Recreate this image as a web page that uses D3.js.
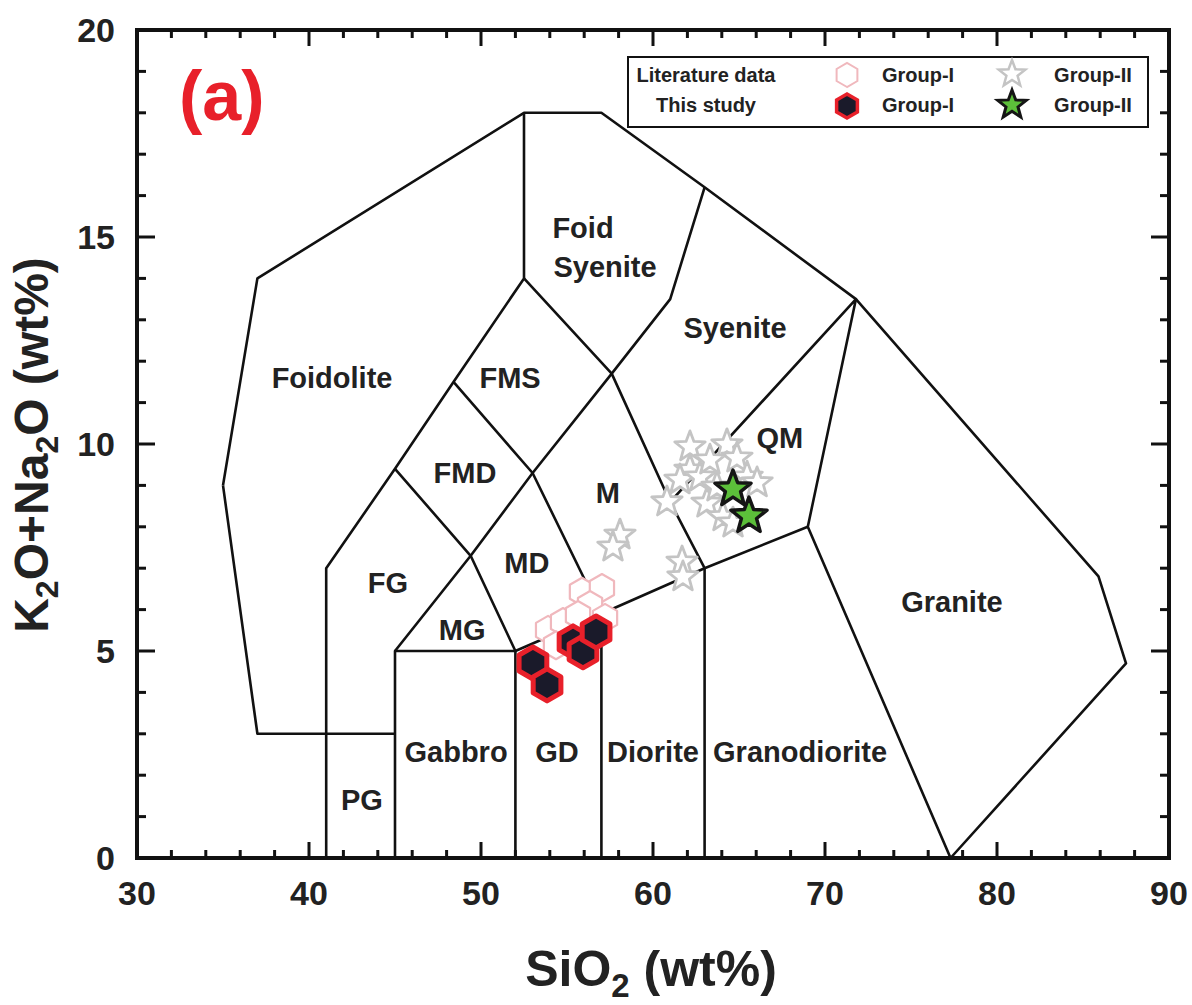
<!DOCTYPE html>
<html>
<head>
<meta charset="utf-8">
<script src="https://cdn.jsdelivr.net/npm/d3@7"></script>
<style>
  body { margin: 0; background: #fff; }
  text { font-family: "Liberation Sans", Arial, sans-serif; font-weight: bold; }
</style>
</head>
<body>
<svg id="chart" width="1192" height="1005"></svg>
<script>
// field boundaries (Middlemost 1994), each one a polyline of [SiO2, K2O+Na2O]
var boundaries = [
  [[35,9],[37,14],[52.5,18],[57,18],[63,16.2],[71.8,13.5],[85.9,6.8],[87.5,4.7],[77.3,0]],
  [[35,9],[37,3],[45,3]],
  [[41,0],[41,7],[45,9.4],[48.4,11.5],[52.5,14],[52.5,18]],
  [[45,0],[45,5],[52,5]],
  [[45,5],[49.4,7.3],[53,9.3],[57.6,11.7],[61,13.5],[63,16.2]],
  [[45,9.4],[49.4,7.3],[52,5],[52,0]],
  [[48.4,11.5],[53,9.3],[57,5.9],[57,0]],
  [[52,5],[57,5.9],[63,7],[69,8]],
  [[63,0],[63,7]],
  [[52.5,14],[57.6,11.7],[61,8.6],[63,7]],
  [[61,8.6],[71.8,13.5],[69,8],[77.3,0]]
];

var fieldNames = ["Foidolite","Foid","Syenite","FMS","Syenite","FMD","M","QM","MD","FG","MG","Granite","Gabbro","GD","Diorite","Granodiorite","PG"];
var fieldX = [41.34,55.93,57.21,51.69,64.77,49.07,57.38,67.38,52.67,44.59,48.90,77.38,48.55,54.42,60.0,68.55,43.08];
var fieldY = [11.59,15.22,14.28,11.59,12.80,9.30,8.82,10.14,7.13,6.64,5.51,6.18,2.56,2.56,2.56,2.56,1.40];

// literature data
var litG1_si = [55.87,57.03,56.34,53.90,54.77,55.64,57.21,54.36];
var litG1_alk = [6.43,6.52,6.11,5.51,5.70,5.87,5.80,5.14];
var litG2_si = [62.15,64.30,64.88,62.15,61.57,62.73,65.47,66.05,60.81,63.14,64.07,64.65,63.72,63.31,58.08,57.67,61.69,61.74];
var litG2_alk = [9.93,9.98,9.66,9.37,9.13,9.20,9.20,9.06,8.60,8.57,8.24,8.09,8.96,9.61,7.80,7.51,7.15,6.79];

// this study
var thisG1_si = [53.02,53.84,55.35,55.93,56.69];
var thisG1_alk = [4.71,4.18,5.22,4.98,5.46];
var thisG2_si = [64.65,65.58];
var thisG2_alk = [8.91,8.26];

var xTicks = [30,40,50,60,70,80,90];
var yTicks = [0,5,10,15,20];

var svg = d3.select("#chart");
var pLeft = 137, pTop = 30, pRight = 1169, pBottom = 858;

var x = d3.scaleLinear().domain([30,90]).range([pLeft,pRight]);
var y = d3.scaleLinear().domain([0,20]).range([pBottom,pTop]);

// hexagon / star paths around the origin
function hexPath(r){
  var pts = d3.range(6).map(function(i){
    var a = Math.PI/2 + i*Math.PI/3;
    return [r*Math.cos(a), r*Math.sin(a)];
  });
  return d3.line()(pts) + "Z";
}
function starPath(r){
  var pts = d3.range(10).map(function(i){
    var rr = i%2==0 ? r : r*0.42;
    var a = -Math.PI/2 + i*Math.PI/5;
    return [rr*Math.cos(a), rr*Math.sin(a)];
  });
  return d3.line()(pts) + "Z";
}

// boundary lines
var line = d3.line().x(function(d){return x(d[0]);}).y(function(d){return y(d[1]);});
svg.append("g").selectAll("path")
  .data(boundaries).enter().append("path")
  .attr("d", line)
  .attr("fill","none").attr("stroke","#111").attr("stroke-width",2.6)
  .attr("stroke-linejoin","round");

// field names
svg.append("g").selectAll("text")
  .data(fieldNames).enter().append("text")
  .attr("x", function(d,i){return x(fieldX[i]);})
  .attr("y", function(d,i){return y(fieldY[i]);})
  .attr("text-anchor","middle").attr("dominant-baseline","central")
  .attr("font-size",29).attr("fill","#222")
  .text(function(d){return d;});

// markers
function markers(si, alk, path, fill, stroke, sw){
  svg.append("g").selectAll("path")
    .data(si).enter().append("path")
    .attr("d", path)
    .attr("transform", function(d,i){return "translate("+x(d)+","+y(alk[i])+")";})
    .attr("fill", fill).attr("stroke", stroke).attr("stroke-width", sw)
    .attr("stroke-linejoin","round");
}
markers(litG1_si, litG1_alk, hexPath(14), "#fff", "#f0b8bd", 2.2);
markers(litG2_si, litG2_alk, starPath(16), "#fff", "#c4c4c4", 2.8);
markers(thisG1_si, thisG1_alk, hexPath(16), "#1a1a2a", "#e8202a", 5);
markers(thisG2_si, thisG2_alk, starPath(19), "#5cbf3a", "#151515", 3.5);

// frame
svg.append("rect")
  .attr("x",pLeft).attr("y",pTop).attr("width",pRight-pLeft).attr("height",pBottom-pTop)
  .attr("fill","none").attr("stroke","#111").attr("stroke-width",4);

// inward ticks on all sides
var tg = svg.append("g").attr("stroke","#111").attr("stroke-width",3);
x.ticks(30).forEach(function(v){
  var len = v%10==0 ? 16 : 8;
  tg.append("line").attr("x1",x(v)).attr("x2",x(v)).attr("y1",pBottom).attr("y2",pBottom-len);
  tg.append("line").attr("x1",x(v)).attr("x2",x(v)).attr("y1",pTop).attr("y2",pTop+len);
});
y.ticks(20).forEach(function(v){
  var len = v%5==0 ? 18 : 9;
  tg.append("line").attr("y1",y(v)).attr("y2",y(v)).attr("x1",pLeft).attr("x2",pLeft+len);
  tg.append("line").attr("y1",y(v)).attr("y2",y(v)).attr("x1",pRight).attr("x2",pRight-len);
});

// tick labels
svg.append("g").selectAll("text").data(xTicks).enter().append("text")
  .attr("x", function(d){return x(d);}).attr("y", pBottom+47)
  .attr("text-anchor","middle").attr("font-size",34).attr("fill","#222")
  .text(function(d){return d;});
svg.append("g").selectAll("text").data(yTicks).enter().append("text")
  .attr("x", pLeft-22).attr("y", function(d){return y(d);})
  .attr("text-anchor","end").attr("dominant-baseline","central")
  .attr("font-size",34).attr("fill","#222")
  .text(function(d){return d;});

// axis titles
var xt = svg.append("text").attr("x",651).attr("y",986)
  .attr("text-anchor","middle").attr("font-size",50).attr("fill","#222");
xt.append("tspan").text("SiO");
xt.append("tspan").attr("font-size",33).attr("dy",11).text("2");
xt.append("tspan").attr("dy",-11).text(" (wt%)");

var yt = svg.append("text").attr("transform","translate(48,445) rotate(-90)")
  .attr("text-anchor","middle").attr("font-size",48).attr("fill","#222");
yt.append("tspan").text("K");
yt.append("tspan").attr("font-size",32).attr("dy",10).text("2");
yt.append("tspan").attr("dy",-10).text("O+Na");
yt.append("tspan").attr("font-size",32).attr("dy",10).text("2");
yt.append("tspan").attr("dy",-10).text("O (wt%)");

// panel letter
svg.append("text").attr("x",179).attr("y",120).attr("font-size",70)
  .attr("fill","#e8202a").text("(a)");

// legend
var lg = svg.append("g");
lg.append("rect").attr("x",628).attr("y",57).attr("width",520).attr("height",70)
  .attr("fill","#fff").attr("stroke","#111").attr("stroke-width",2);
var rows = ["Literature data","This study"];
var rowY = [75,105];
rows.forEach(function(r,i){
  lg.append("text").attr("x",706).attr("y",rowY[i]).attr("text-anchor","middle")
    .attr("dominant-baseline","central").attr("font-size",20).attr("fill","#222").text(r);
  lg.append("text").attr("x",918).attr("y",rowY[i]).attr("text-anchor","middle")
    .attr("dominant-baseline","central").attr("font-size",20).attr("fill","#222").text("Group-I");
  lg.append("text").attr("x",1093).attr("y",rowY[i]).attr("text-anchor","middle")
    .attr("dominant-baseline","central").attr("font-size",20).attr("fill","#222").text("Group-II");
});
lg.append("path").attr("d",hexPath(12)).attr("transform","translate(847,75)")
  .attr("fill","#fff").attr("stroke","#f0b8bd").attr("stroke-width",2);
lg.append("path").attr("d",hexPath(12)).attr("transform","translate(847,106)")
  .attr("fill","#1a1a2a").attr("stroke","#e8202a").attr("stroke-width",3.5);
lg.append("path").attr("d",starPath(14)).attr("transform","translate(1012,74)")
  .attr("fill","#fff").attr("stroke","#c4c4c4").attr("stroke-width",2.5);
lg.append("path").attr("d",starPath(15)).attr("transform","translate(1012,105)")
  .attr("fill","#5cbf3a").attr("stroke","#151515").attr("stroke-width",3);
</script>
</body>
</html>
